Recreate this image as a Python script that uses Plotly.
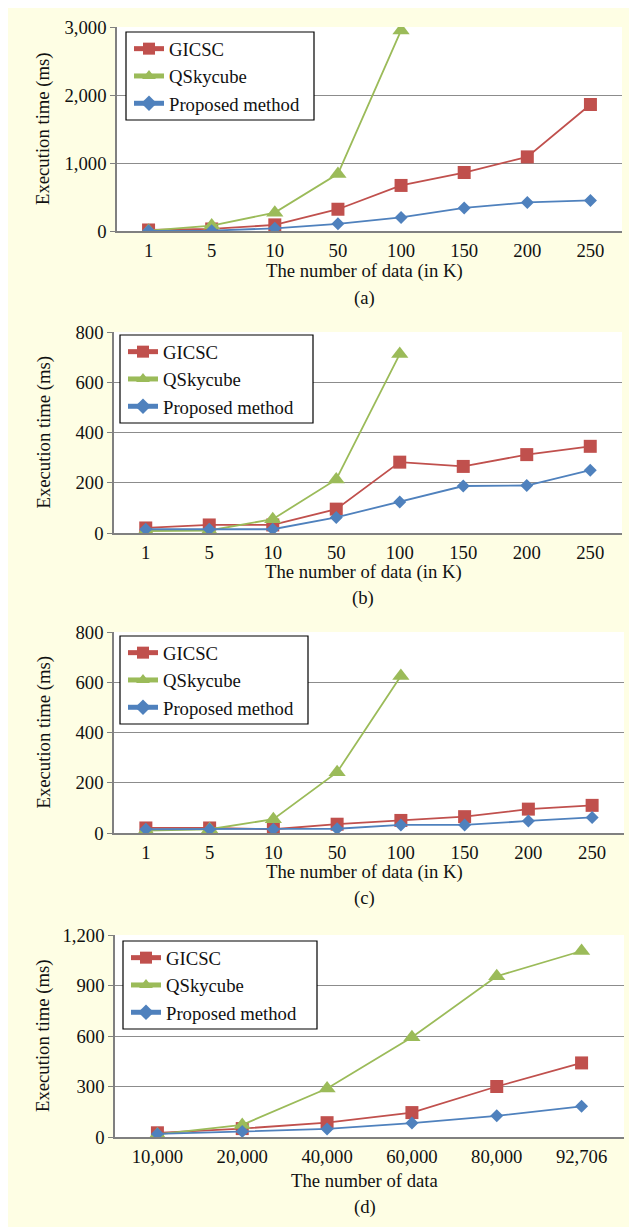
import plotly.graph_objects as go

# The page body keeps an 8px margin, so the figure is sized to fit the window
# and every reference pixel position is shifted by that margin.
OFF = 8
W, H = 637 - OFF, 1227 - OFF

# ---------------- data ----------------
cats_k = ["1", "5", "10", "50", "100", "150", "200", "250"]
cats_d = ["10,000", "20,000", "40,000", "60,000", "80,000", "92,706"]
series_names = ["GICSC", "QSkycube", "Proposed method"]

a_gicsc = [15, 30, 90, 320, 670, 860, 1090, 1860]
a_qsky = [5, 80, 270, 840, 2950]
a_prop = [3, 5, 40, 105, 200, 340, 420, 450]

b_gicsc = [20, 32, 32, 95, 282, 265, 312, 345]
b_qsky = [8, 10, 55, 213, 712]
b_prop = [15, 15, 15, 62, 123, 187, 189, 250]

c_gicsc = [20, 20, 15, 35, 50, 65, 95, 110]
c_qsky = [10, 15, 55, 242, 625]
c_prop = [15, 15, 15, 17, 32, 32, 48, 62]

d_gicsc = [25, 50, 85, 145, 300, 440]
d_qsky = [15, 72, 288, 592, 955, 1105]
d_prop = [18, 33, 48, 83, 126, 182]

y_ranges = [[0, 3000], [0, 800], [0, 800], [0, 1200]]
y_dticks = [1000, 200, 200, 300]
x_titles = ["The number of data (in K)"] * 3 + ["The number of data"]
panel_labels = ["(a)", "(b)", "(c)", "(d)"]

# ---------------- style ----------------
FONT = "Liberation Serif"
FS = 18.7
TXT = "#111111"
COLORS = ["#C0504D", "#9BBB59", "#4F81BD"]
SYMBOLS = ["square", "triangle-up", "diamond"]
SIZES = [13, 15, 10]
BG = "#FEFEE4"
GRID = "#8C8C8C"
AXIS = "#808080"

# reference-pixel layout of each panel: (left, right, top, bottom)
boxes = [(117, 622, 27, 231), (114, 622, 332, 533), (114, 624, 632, 833), (115, 624, 935, 1137)]
# legend boxes: (left, right, top, bottom)
legend_boxes = [(126, 314, 32, 120), (120, 313, 335, 423), (120, 308, 636, 724), (123, 317, 941, 1029)]
xtitle_y = [271, 572, 872, 1180]
label_y = [298, 598, 898, 1207]
ytitle_x = 43


def px(x):
    return (x - OFF) / W


def py(y):
    return 1 - (y - OFF) / H


panels = [
    (cats_k, [a_gicsc, a_qsky, a_prop]),
    (cats_k, [b_gicsc, b_qsky, b_prop]),
    (cats_k, [c_gicsc, c_qsky, c_prop]),
    (cats_d, [d_gicsc, d_qsky, d_prop]),
]

fig = go.Figure()
layout = dict(
    width=W, height=H,
    margin=dict(l=0, r=0, t=0, b=0, autoexpand=False),
    paper_bgcolor=BG,
    plot_bgcolor="white",
    font=dict(family=FONT, size=FS, color=TXT),
    showlegend=True,
    annotations=[],
    shapes=[],
)

for i, (cats, vals) in enumerate(panels):
    n = i + 1
    xa = "x" if n == 1 else f"x{n}"
    ya = "y" if n == 1 else f"y{n}"
    lg = "legend" if n == 1 else f"legend{n}"
    for k in range(3):
        fig.add_trace(go.Scatter(
            x=cats[:len(vals[k])], y=vals[k], name=series_names[k],
            mode="lines+markers", xaxis=xa, yaxis=ya, legend=lg,
            line=dict(color=COLORS[k], width=1.8),
            marker=dict(symbol=SYMBOLS[k], size=SIZES[k], color=COLORS[k]),
        ))
    l, r, t, b = boxes[i]
    xkey = "xaxis" if n == 1 else f"xaxis{n}"
    ykey = "yaxis" if n == 1 else f"yaxis{n}"
    layout[xkey] = dict(
        domain=[px(l), px(r)], anchor=ya, type="category",
        categoryorder="array", categoryarray=cats, range=[-0.5, len(cats) - 0.5],
        showline=True, linecolor=AXIS, linewidth=2,
        ticks="outside", ticklen=2, tickcolor="rgba(0,0,0,0)",
        showgrid=False, zeroline=False, fixedrange=True, automargin=False,
        tickfont=dict(family=FONT, size=FS, color=TXT),
    )
    layout[ykey] = dict(
        domain=[py(b), py(t)], anchor=xa, range=y_ranges[i], dtick=y_dticks[i],
        tickformat=",", showline=True, linecolor=AXIS, linewidth=1.5,
        ticks="outside", ticklen=5, tickcolor=AXIS,
        showgrid=True, gridcolor=GRID, gridwidth=1.2, zeroline=False, automargin=False,
        tickfont=dict(family=FONT, size=FS, color=TXT),
    )
    ll, lr, lt, lb = legend_boxes[i]
    layout["shapes"].append(dict(
        type="rect", xref="paper", yref="paper",
        x0=px(ll), x1=px(lr), y0=py(lb), y1=py(lt),
        fillcolor="white", line=dict(color="#000000", width=1.2), layer="above",
    ))
    layout[lg] = dict(
        x=px(ll + 3), y=py(lt - 2), xanchor="left", yanchor="top",
        bgcolor="rgba(0,0,0,0)", borderwidth=0,
        font=dict(family=FONT, size=FS, color=TXT),
        itemsizing="constant", tracegroupgap=0,
    )
    cx = (l + r) / 2 - 5
    layout["annotations"] += [
        dict(text=x_titles[i], x=px(cx), y=py(xtitle_y[i]), xref="paper", yref="paper",
             showarrow=False, xanchor="center", yanchor="middle",
             font=dict(family=FONT, size=FS, color=TXT)),
        dict(text=panel_labels[i], x=px(cx), y=py(label_y[i]), xref="paper", yref="paper",
             showarrow=False, xanchor="center", yanchor="middle",
             font=dict(family=FONT, size=FS, color=TXT)),
        dict(text="Execution time (ms)", x=px(ytitle_x), y=py((t + b) / 2), xref="paper", yref="paper",
             showarrow=False, xanchor="center", yanchor="middle", textangle=-90,
             font=dict(family=FONT, size=FS, color=TXT)),
    ]

fig.update_layout(**layout)
fig.write_html("out.html")
